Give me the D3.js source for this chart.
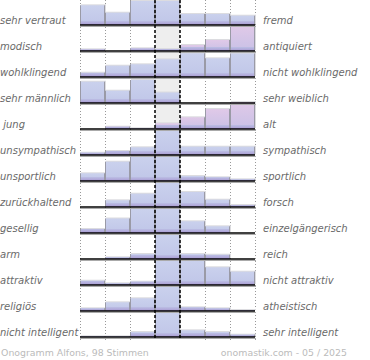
<!DOCTYPE html>
<html>
<head>
<meta charset="utf-8">
<script src="https://cdn.jsdelivr.net/npm/d3@7"></script>
<style>
  body { margin: 0; background: #fff; }
  text { font-family: "DejaVu Sans", sans-serif; }
  .lbl { font-size: 10px; font-style: italic; fill: #6a6a6a; white-space: pre; }
  .foot { font-size: 9.4px; fill: #bbb; }
</style>
</head>
<body>
<div id="chart"></div>
<script>
const leftLabels = ["sehr vertraut", "modisch", "wohlklingend", "sehr männlich", " jung", "unsympathisch",
    "unsportlich", "zurückhaltend", "gesellig", "arm", "attraktiv", "religiös", "nicht intelligent"];
const rightLabels = ["fremd", "antiquiert", "nicht wohlklingend", "sehr weiblich", "alt", "sympathisch",
    "sportlich", "forsch", "einzelgängerisch", "reich", "nicht attraktiv", "atheistisch", "sehr intelligent"];

// relative vote share per answer step (row max ~25)
const votes = [
    [19.7, 12.3, 24, 24, 11, 11, 9.3],
    [1.7, 0, 2.7, 2, 6, 11, 25],
    [4.3, 11.3, 12.7, 17.7, 23.7, 18.7, 23.5],
    [21.3, 12.3, 23, 10.5, 0, 0, 0],
    [0, 2.3, 0.7, 5.7, 11.7, 20, 27],
    [2.3, 4, 7.7, 25, 8.3, 8.3, 8.3],
    [7.7, 19.3, 25, 25, 5, 3.7, 1.7],
    [0, 6.7, 13.3, 25, 15, 7.3, 2],
    [4, 14.5, 24, 25, 11.7, 6.7, 0],
    [0, 1.7, 5, 25, 5, 4.3, 0],
    [4.3, 1.7, 3.3, 25, 25, 17.7, 13.3],
    [2.7, 8.7, 12.7, 25, 3.7, 2.7, 1],
    [0.7, 0.7, 5, 25, 6.7, 5, 2.3]
];
const steps = [1, 2, 3, 4, 5, 6, 7];
const footLeft = "Onogramm Alfons, 98 Stimmen";
const footRight = "onomastik.com - 05 / 2025";

const MARGIN = {LEFT: 80, TOP: 25};
const W = 370, H = 360;
const ROW = 26;

const svg = d3.select("#chart").append("svg")
    .attr("width", W)
    .attr("height", H);

const defs = svg.append("defs");
function grad(id, top, bottom) {
    const g = defs.append("linearGradient").attr("id", id)
        .attr("x1", 0).attr("y1", 0).attr("x2", 0).attr("y2", 1);
    g.append("stop").attr("offset", "0%").attr("stop-color", top);
    g.append("stop").attr("offset", "100%").attr("stop-color", bottom);
}
grad("blue", "#cad1ed", "#c0c6e8");
grad("pink", "#e0c9e8", "#c9c1e6");
grad("band", "#bcbfe4", "#a898d2");

const x = d3.scaleBand().domain(steps).range([MARGIN.LEFT, MARGIN.LEFT + 7 * 25]).paddingInner(0);
const row = d3.scalePoint().domain(d3.range(votes.length)).range([MARGIN.TOP, MARGIN.TOP + ROW * (votes.length - 1)]);
const h = d3.scaleLinear().domain([0, 25]).range([0, 25]);

const yBottom = row(votes.length - 1);

// middle column background
svg.append("rect")
    .attr("x", x(4)).attr("y", 0)
    .attr("width", x.bandwidth()).attr("height", yBottom)
    .attr("fill", "#eeeeee");

// dotted grid
const gridX = [x(1), x(2), x(3), x(6), x(7), x(7) + x.bandwidth()];
svg.selectAll(".dot").data(gridX).enter().append("line")
    .attr("x1", d => d + 0.5).attr("x2", d => d + 0.5)
    .attr("y1", 0).attr("y2", yBottom + 3)
    .attr("stroke", "#999").attr("stroke-dasharray", "1,2");

// bars
votes.forEach((vals, i) => {
    const base = row(i);
    const pink = d3.maxIndex(vals) === vals.length - 1;
    const g = svg.append("g").attr("class", "row");
    const data = vals.map((v, j) => ({step: steps[j], v: v})).filter(d => d.v > 0);

    g.selectAll(".shadow").data(data).enter().append("rect")
        .attr("x", d => x(d.step) + 1)
        .attr("y", d => base - h(d.v) - 1)
        .attr("width", x.bandwidth())
        .attr("height", d => h(d.v))
        .attr("fill", "#dcdce0");

    g.selectAll(".bar").data(data).enter().append("rect")
        .attr("x", d => x(d.step))
        .attr("y", d => base - h(d.v))
        .attr("width", x.bandwidth())
        .attr("height", d => h(d.v))
        .attr("fill", pink ? "url(#pink)" : "url(#blue)");

    g.selectAll(".band").data(data).enter().append("rect")
        .attr("x", d => x(d.step))
        .attr("y", d => base - Math.min(h(d.v), 4))
        .attr("width", x.bandwidth())
        .attr("height", d => Math.min(h(d.v), 4))
        .attr("fill", "url(#band)");

    g.selectAll(".edge").data(data).enter().append("path")
        .attr("d", d => {
            const x0 = x(d.step) + 0.5, x1 = x(d.step) + x.bandwidth() - 0.5;
            const y0 = base - h(d.v);
            return `M${x0},${base}V${y0}M${x1},${base}V${y0}`;
        })
        .attr("stroke", "#9a9aa6").attr("stroke-width", 1).attr("fill", "none");
});

// baselines
svg.selectAll(".base").data(votes).enter().append("g")
    .each(function (d, i) {
        const b = row(i);
        d3.select(this).append("line")
            .attr("x1", MARGIN.LEFT).attr("x2", x(7) + x.bandwidth() + 1)
            .attr("y1", b + 1.5).attr("y2", b + 1.5)
            .attr("stroke", "#aaa").attr("stroke-width", 1);
        d3.select(this).append("line")
            .attr("x1", MARGIN.LEFT).attr("x2", x(7) + x.bandwidth())
            .attr("y1", b).attr("y2", b)
            .attr("stroke", "#000").attr("stroke-width", 1.6);
    });

// dashed middle lines
svg.selectAll(".dash").data([x(4), x(5)]).enter().append("line")
    .attr("x1", d => d).attr("x2", d => d)
    .attr("y1", 0).attr("y2", yBottom + 3)
    .attr("stroke", "#000").attr("stroke-width", 1.5).attr("stroke-dasharray", "3,2");

// labels
svg.selectAll(".left").data(leftLabels).enter().append("text")
    .attr("class", "lbl")
    .attr("x", 0).attr("y", (d, i) => row(i) - 1.5)
    .text(d => d);
svg.selectAll(".right").data(rightLabels).enter().append("text")
    .attr("class", "lbl")
    .attr("x", 263).attr("y", (d, i) => row(i) - 1.5)
    .text(d => d);

svg.append("text").attr("class", "foot")
    .attr("x", 1).attr("y", 356).text(footLeft);
svg.append("text").attr("class", "foot")
    .attr("x", 347).attr("y", 356).attr("text-anchor", "end").text(footRight);
</script>
</body>
</html>
